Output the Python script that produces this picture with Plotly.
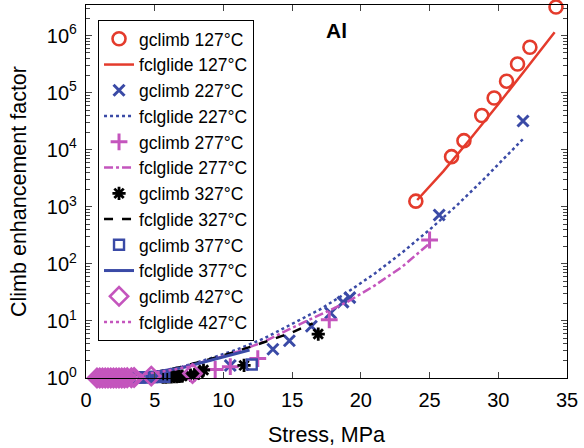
import plotly.graph_objects as go

# gclimb data (markers)
g127_x = [24.0, 26.6, 27.5, 28.8, 29.7, 30.6, 31.4, 32.3, 34.2]
g127_y = [1260, 7600, 14500, 40000, 81000, 160000, 320000, 630000, 3200000]

g227_x = [10.5, 13.6, 14.8, 16.4, 17.8, 18.7, 19.2, 25.7, 31.8]
g227_y = [1.66, 3.2, 4.5, 8.1, 13.8, 21.4, 25.7, 720, 32000]

g277_x = [9.4, 10.5, 12.5, 17.7, 25.0]
g277_y = [1.41, 1.58, 2.19, 10.5, 263]

g327_x = [5.6, 5.8, 6.0, 6.2, 6.4, 6.6, 6.8, 7.0, 7.6, 7.9, 8.2, 8.55, 11.5, 16.9]
g327_y = [1.04, 1.04, 1.05, 1.05, 1.06, 1.06, 1.07, 1.08, 1.12, 1.15, 1.22, 1.38, 1.66, 5.9]

g377_x = [3.6, 3.9, 4.2, 4.5, 4.8, 5.1, 5.4, 5.7, 12.06]
g377_y = [1.02, 1.02, 1.03, 1.03, 1.04, 1.04, 1.05, 1.05, 1.72]

g427_x = [0.8, 1.0, 1.2, 1.4, 1.6, 1.8, 2.0, 2.2, 2.4, 2.6, 2.8, 3.0, 3.3, 3.5, 4.75, 7.75]
g427_y = [1.0, 1.0, 1.0, 1.0, 1.0, 1.0, 1.0, 1.0, 1.0, 1.0, 1.0, 1.01, 1.01, 1.02, 1.08, 1.2]

# fclglide data (lines)
f127_x = [24.1, 26, 28, 30, 32, 34.1]
f127_y = [1320, 4200, 16000, 63000, 260000, 1150000]

f227_x = [3, 5, 7, 9, 11, 13, 15, 17, 19, 21, 23, 25, 27, 29, 31.8]
f227_y = [1.1, 1.26, 1.58, 2.19, 3.16, 5.0, 8.9, 15.8, 31.6, 67.6, 158, 398, 1070, 3160, 15500]

f277_x = [3, 5, 7, 9, 11, 13, 15, 17, 19, 21, 23, 25]
f277_y = [1.07, 1.26, 1.55, 2.04, 2.88, 4.37, 7.6, 12.6, 21.4, 41.7, 89, 229]

f327_x = [5, 7, 9, 11, 13, 15, 16.5]
f327_y = [1.26, 1.58, 2.14, 2.95, 4.27, 6.3, 9.1]

f377_x = [3, 5, 7, 9, 11.9]
f377_y = [1.1, 1.26, 1.51, 2.0, 3.1]

f427_x = [0.8, 2, 4, 6, 8]
f427_y = [1.0, 1.05, 1.15, 1.35, 1.66]

RED = "#e43b2c"
BLUE = "#3a4aa6"
MAG = "#c455bd"
BLK = "#000000"

fig = go.Figure()

def add_m(x, y, name, sym, color, size=11, lw=2.2):
    fig.add_trace(go.Scatter(x=x, y=y, mode="markers", name=name, cliponaxis=False,
                             marker=dict(symbol=sym, size=size, color=color,
                                         line=dict(color=color, width=lw))))

def add_l(x, y, name, color, dash, lw=2.5):
    fig.add_trace(go.Scatter(x=x, y=y, mode="lines", name=name,
                             line=dict(color=color, dash=dash, width=lw)))

add_m(g127_x, g127_y, "gclimb 127°C", "circle-open", RED, size=13, lw=2.6)
add_l(f127_x, f127_y, "fclglide 127°C", RED, "solid")
add_m(g227_x, g227_y, "gclimb 227°C", "x-thin-open", BLUE, size=11, lw=3)
add_l(f227_x, f227_y, "fclglide 227°C", BLUE, "dot")
add_m(g277_x, g277_y, "gclimb 277°C", "cross-thin-open", MAG, size=12, lw=3)
add_l(f277_x, f277_y, "fclglide 277°C", MAG, "dashdot")
add_m(g327_x, g327_y, "gclimb 327°C", "asterisk-open", BLK, size=11, lw=2.8)
add_l(f327_x, f327_y, "fclglide 327°C", BLK, "dash")
add_m(g377_x, g377_y, "gclimb 377°C", "square-open", BLUE, size=10, lw=2.4)
add_l(f377_x, f377_y, "fclglide 377°C", BLUE, "solid", lw=3)
add_m(g427_x, g427_y, "gclimb 427°C", "diamond-open", MAG, size=14, lw=2.6)
add_l(f427_x, f427_y, "fclglide 427°C", MAG, "dot")

FONT = "Liberation Sans, Arial, sans-serif"

fig.add_annotation(x=18.2, y=6.1, xref="x", yref="y", text="<b>Al</b>",
                   showarrow=False, font=dict(size=21, family=FONT, color="black"))

ytv = [1, 10, 100, 1000, 1e4, 1e5, 1e6]
ytt = ["10<sup>0</sup>", "10<sup>1</sup>", "10<sup>2</sup>", "10<sup>3</sup>",
       "10<sup>4</sup>", "10<sup>5</sup>", "10<sup>6</sup>"]

fig.update_layout(
    width=584, height=448,
    margin=dict(l=86, r=17, t=5, b=70),
    paper_bgcolor="white", plot_bgcolor="white",
    font=dict(family=FONT, size=20, color="black"),
    showlegend=True,
    legend=dict(x=0.025, y=0.96, xanchor="left", yanchor="top",
                bgcolor="white", bordercolor="black", borderwidth=1,
                font=dict(size=17.5, family=FONT), tracegroupgap=0,
                itemwidth=30),
    xaxis=dict(range=[0, 35], tickvals=[0, 5, 10, 15, 20, 25, 30, 35],
               ticks="inside", ticklen=6, showline=True, linecolor="black",
               linewidth=1.3, mirror="ticks", showgrid=False, zeroline=False,
               automargin=False, ticklabelstandoff=4,
               title=dict(text="Stress, MPa", font=dict(size=21.5), standoff=16),
               tickfont=dict(size=20)),
    yaxis=dict(type="log", range=[0, 6.54], tickvals=ytv, ticktext=ytt,
               ticks="inside", ticklen=6, showline=True, linecolor="black",
               linewidth=1.3, mirror="ticks", showgrid=False, zeroline=False,
               automargin=False, ticklabelstandoff=4,
               minor=dict(ticks="inside", ticklen=4, dtick="D1", showgrid=False),
               title=dict(text="Climb enhancement factor", font=dict(size=21.5), standoff=14),
               tickfont=dict(size=20)),
)

fig.write_html("out.html", config={"displayModeBar": False},
               post_script="document.body.style.margin='0';")
